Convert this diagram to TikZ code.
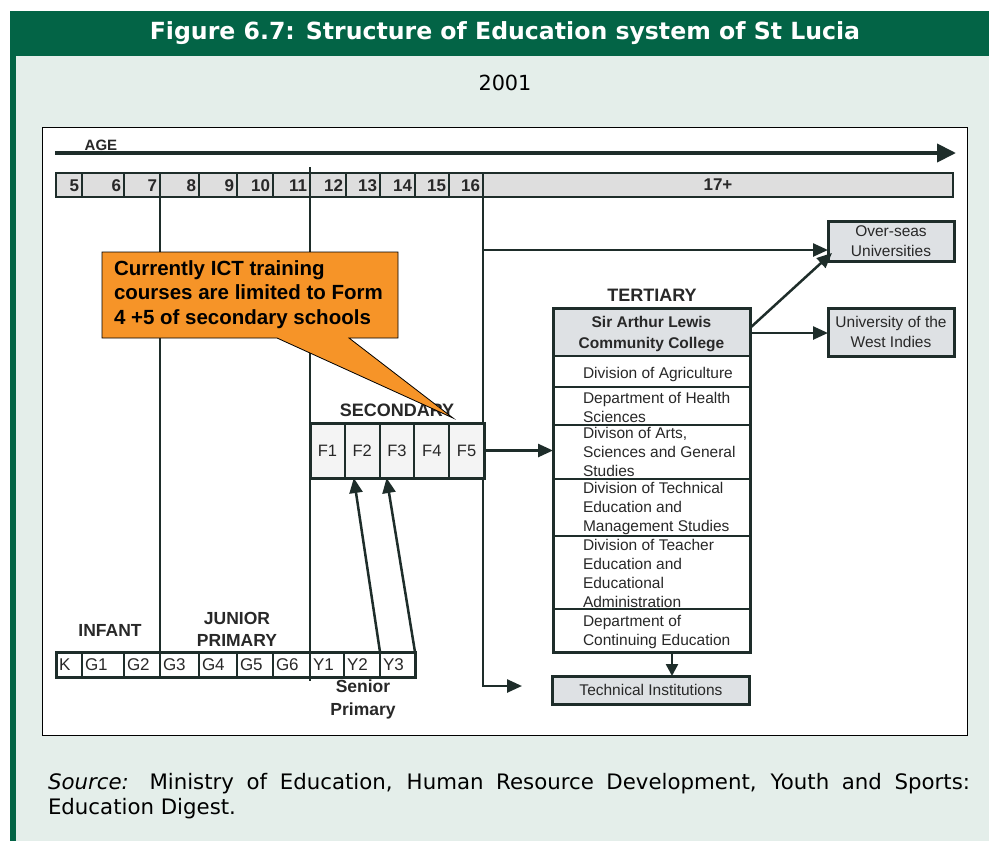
\documentclass[tikz,border=0pt]{standalone}
\usepackage{fontspec}
\setmainfont{Liberation Sans}
\newfontfamily\verd{DejaVu Sans}
\usetikzlibrary{arrows.meta,calc}
\definecolor{hdr}{RGB}{3,100,70}
\definecolor{bgc}{RGB}{228,238,234}
\definecolor{lnc}{RGB}{30,45,42}
\definecolor{txc}{RGB}{40,40,40}
\definecolor{cellg}{RGB}{222,222,222}
\definecolor{boxg}{RGB}{222,225,228}
\definecolor{fcell}{RGB}{244,244,244}
\definecolor{orng}{RGB}{246,148,40}
\newcommand\myfs[2]{\fontsize{#1}{#2}\selectfont}
\tikzset{
  every node/.append style={outer sep=0pt},
  agecell/.style={draw=lnc, line width=2, fill=cellg, minimum height=24, inner sep=0, anchor=west},
  agenum/.style={inner sep=0, font=\myfs{17}{19}\bfseries, text=txc},
  botcell/.style={draw=lnc, line width=2, fill=white, minimum height=25, inner sep=0, anchor=west},
  botlab/.style={inner sep=0, anchor=west, font=\myfs{17}{19}, text=txc},
  vline/.style={draw=lnc, line width=2.5},
  arr/.style={draw=lnc, line width=2.5, -{Triangle[length=15pt,width=13pt]}},
  seclab/.style={inner sep=0, font=\myfs{18}{22}\bfseries, text=txc, align=center},
  fcellst/.style={draw=lnc, line width=2, fill=fcell, minimum width=34.8, minimum height=55, inner sep=0, anchor=west, font=\myfs{16.5}{19}, text=txc},
  terrow/.style={draw=lnc, line width=2, fill=white, minimum width=197, inner sep=0, anchor=north west},
  tertxt/.style={inner sep=0, anchor=west, align=left, font=\myfs{15.5}{19}, text=txc},
  greybox/.style={draw=lnc, line width=3, fill=boxg, inner sep=0, align=center, font=\myfs{15.5}{20}, text=txc},
}
\begin{document}
\begin{tikzpicture}[x=1pt,y=-1pt]
\useasboundingbox (0,0) rectangle (989,841);
\fill[white] (0,0) rectangle (989,841);
\fill[hdr] (10,11) rectangle (989,841);
\fill[bgc] (16,56) rectangle (989,841);
\node[inner sep=0, text=white, font=\verd\myfs{23.6}{26}\bfseries] (title) at (505,33) {Figure 6.7: Structure of Education system of St Lucia};
\node[inner sep=0, font=\verd\myfs{20.8}{24}] (year) at (505,83) {2001};
\draw[black, line width=1, fill=white] (42,127) rectangle (967,735);

% age arrow
\node[inner sep=0, font=\myfs{15}{18}\bfseries, text=txc] (agelab) at (101,145) {AGE};
\coordinate (agestart) at (55,153);
\coordinate (ageend) at (956,153);
\draw[draw=lnc, line width=4, -{Triangle[length=19pt,width=18pt]}] (agestart) -- (ageend);

% age row
\foreach \a/\b/\t [count=\i] in {56/82/5,82/124/6,124/160/7,160/199/8,199/237/9,237/273/10,273/310/11,310/346/12,346/380/13,380/415/14,415/449/15,449/483/16}{
  \pgfmathsetmacro\w{\b-\a}
  \node[agecell, minimum width=\w] (age\i) at (\a,185) {};
  \node[agenum, anchor=east] (agen\i) at (\b-3,185.5) {\t};
}
\node[agecell, minimum width=470] (age13) at (483,185) {};
\node[agenum] (agen13) at (age13.center) {17+};

% bottom row
\foreach \a/\b/\t [count=\i] in {56/82/K,82/124/G1,124/160/G2,160/199/G3,199/237/G4,237/273/G5,273/310/G6,310/344/Y1,344/380/Y2,380/415/Y3}{
  \pgfmathsetmacro\w{\b-\a}
  \node[botcell, minimum width=\w] (bot\i) at (\a,664.5) {};
  \node[botlab] (botl\i) at (\a+3,665) {\t};
}
\draw[draw=lnc, line width=3] (bot1.north west) rectangle (bot10.south east);

% vertical dividers
\draw[vline] (age3.south east) -- (bot3.north east);
\draw[vline] ($(age7.north east)+(0,-6)$) -- ($(bot7.south east)+(0,4)$);
\coordinate (techarr) at (522,686);
\draw[arr] (age12.south east) |- (techarr);

% stage labels
\node[seclab, font=\myfs{17.5}{22}\bfseries] (infant) at (110,630) {INFANT};
\node[seclab, font=\myfs{17.5}{22}\bfseries] (junior) at (237,629) {JUNIOR\\PRIMARY};
\node[seclab, font=\myfs{17.5}{23}\bfseries] (senior) at (363,699.5) {Senior\\Primary};

% secondary
\node[seclab] (seclbl) at (397,410) {SECONDARY};
\foreach \i in {1,...,5}{
  \node[fcellst] (sec\i) at ({310+34.8*(\i-1)},450.5) {F\i};
}
\draw[draw=lnc, line width=3] (sec1.north west) rectangle (sec5.south east);
\draw[arr] (bot9.north east) -- ($(sec2.south west)+(9,0)$);
\draw[arr] (bot10.north east) -- ($(sec3.south west)+(7,0)$);

% tertiary
\node[seclab] (terlbl) at (652,295) {TERTIARY};
\node[terrow, fill=boxg, minimum height=48] (college) at (553,308) {};
\node[inner sep=0, font=\myfs{15.5}{21}\bfseries, text=txc, align=center] (collegetxt) at ($(college.center)+(0,2.5)$) {Sir Arthur Lewis\\Community College};
\node[terrow, minimum height=31] (agri) at (college.south west) {};
\node[terrow, minimum height=38] (health) at (agri.south west) {};
\node[terrow, minimum height=54] (arts) at (health.south west) {};
\node[terrow, minimum height=57] (techn) at (arts.south west) {};
\node[terrow, minimum height=73] (teach) at (techn.south west) {};
\node[terrow, minimum height=43] (cont) at (teach.south west) {};
\draw[draw=lnc, line width=3] (college.north west) rectangle (cont.south east);
\node[tertxt] (agrit) at ($(agri.west)+(30,2.5)$) {Division of Agriculture};
\node[tertxt] (healtht) at ($(health.west)+(30,1)$) {Department of Health\\Sciences};
\node[tertxt] (artst) at ($(arts.west)+(30,0)$) {Divison of Arts,\\Sciences and General\\Studies};
\node[tertxt] (techt) at ($(techn.west)+(30,1)$) {Division of Technical\\Education and\\Management Studies};
\node[tertxt] (teacht) at ($(teach.west)+(30,1)$) {Division of Teacher\\Education and\\Educational\\Administration};
\node[tertxt] (contt) at ($(cont.west)+(30,1)$) {Department of\\Continuing Education};

\node[greybox, minimum width=197, minimum height=28] (techinst) at (651,690) {Technical Institutions};
\draw[draw=lnc, line width=2.5, -{Triangle[length=12pt,width=12pt]}] ($(cont.south -| techinst.north)+(21,0)$) -- ($(techinst.north)+(21,0)$);

\node[greybox, minimum width=126, minimum height=40] (overseas) at (891,241) {Over-seas\\Universities};
\node[greybox, minimum width=126, minimum height=48] (uwi) at (891,332) {University of the\\West Indies};

\coordinate (ovsin) at ($(overseas.west)+(0,9)$);
\draw[arr] (age12.south east |- ovsin) -- (ovsin);
\draw[arr] ($(college.east)+(0,-4)$) -- ($(overseas.south west)+(4,-8)$);
\draw[arr] ($(college.east)+(0,1)$) -- (uwi.west |- 0,333);
\draw[arr] (sec5.east) -- (arts.west |- sec5.east);

% callout
\draw[draw=black, line width=0.8, fill=orng] (102,252) -- (398,252) -- (398,338) -- (349,338) -- (453,418) -- (277,338) -- (102,338) -- cycle;
\node[inner sep=0, anchor=west, align=left, font=\myfs{20.5}{24.5}\bfseries] (callout) at (114,294.5) {Currently ICT training\\courses are limited to Form\\4 +5 of secondary schools};

% source
\node[inner sep=0, anchor=north west, text width=922, align=justify, font=\verd\myfs{21.3}{25}] (src) at (48,773) {\textit{Source:} Ministry of Education, Human Resource Development, Youth and Sports:\linebreak Education Digest.};
\end{tikzpicture}
\end{document}
